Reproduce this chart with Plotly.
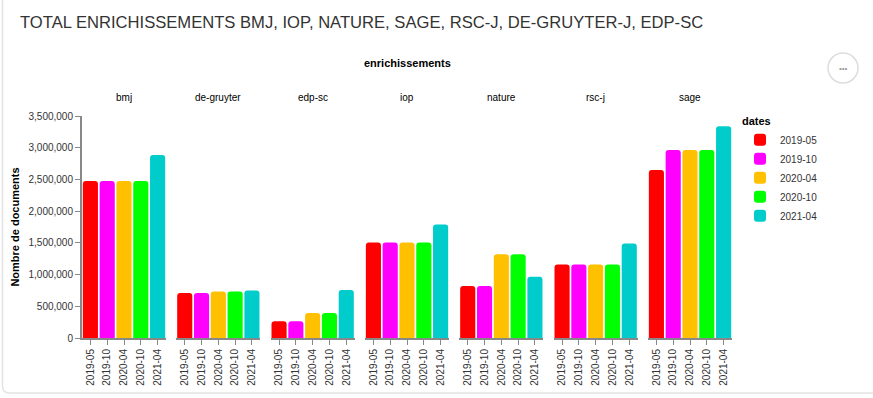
import plotly.graph_objects as go
from plotly.subplots import make_subplots

# ---- data ----
publishers = ["bmj", "de-gruyter", "edp-sc", "iop", "nature", "rsc-j", "sage"]
dates = ["2019-05", "2019-10", "2020-04", "2020-10", "2021-04"]
colors = ["#ff0000", "#ff00ff", "#ffc000", "#00ff00", "#00cccc"]

v_2019_05 = [2475000, 710000, 265000, 1505000, 820000, 1160000, 2650000]
v_2019_10 = [2475000, 710000, 265000, 1505000, 820000, 1160000, 2965000]
v_2020_04 = [2475000, 735000, 395000, 1505000, 1320000, 1160000, 2965000]
v_2020_10 = [2475000, 735000, 395000, 1505000, 1320000, 1160000, 2965000]
v_2021_04 = [2885000, 750000, 755000, 1790000, 965000, 1490000, 3340000]
series = [v_2019_05, v_2019_10, v_2020_04, v_2020_10, v_2021_04]

y_ticks = [0, 500000, 1000000, 1500000, 2000000, 2500000, 3000000, 3500000]

# ---- layout geometry (pixels) ----
W, H = 873, 398
ML, MR, MT, MB = 82, 141, 116, 60
PW = W - ML - MR
PH = H - MT - MB
FONT = "Liberation Sans, Arial, sans-serif"


def px(x):
    return (x - ML) / PW


def py(y):
    return (H - MB - y) / PH


n = len(publishers)
panel_w = 84
step = (PW - panel_w) / (n - 1)

fig = make_subplots(rows=1, cols=n, shared_yaxes=True)

for j, pub in enumerate(publishers):
    for k, d in enumerate(dates):
        fig.add_trace(
            go.Bar(
                x=[d],
                y=[series[k][j]],
                name=d,
                legendgroup=d,
                showlegend=(j == 0),
                marker=dict(color=colors[k], line=dict(width=0)),
                hovertemplate=pub + "<br>" + d + ": %{y:,}<extra></extra>",
            ),
            row=1,
            col=j + 1,
        )

for j in range(n):
    x0 = j * step / PW
    x1 = (j * step + panel_w) / PW
    xa = "xaxis" if j == 0 else f"xaxis{j+1}"
    ya = "yaxis" if j == 0 else f"yaxis{j+1}"
    fig.layout[xa].update(
        domain=[x0, x1],
        type="category",
        categoryorder="array",
        categoryarray=dates,
        showline=True,
        linecolor="#888888",
        linewidth=2,
        ticks="outside",
        ticklen=5,
        tickwidth=1,
        tickcolor="#888888",
        tickangle=-90,
        tickfont=dict(size=10, color="#333333", family=FONT),
        showgrid=False,
        zeroline=False,
        fixedrange=True,
    )
    fig.layout[ya].update(
        range=[0, 3500000],
        showgrid=False,
        zeroline=False,
        fixedrange=True,
    )
    if j == 0:
        fig.layout[ya].update(
            showline=True,
            linecolor="#888888",
            linewidth=2,
            ticks="outside",
            ticklen=5,
            tickcolor="#888888",
            tickvals=y_ticks,
            tickformat=",",
            tickfont=dict(size=10, color="#333333", family=FONT),
            title=dict(
                text="<b>Nombre de documents</b>",
                font=dict(size=11, color="#000000", family=FONT),
                standoff=7,
            ),
        )
    else:
        fig.layout[ya].update(showline=False, showticklabels=False, ticks="")
    # facet header
    fig.add_annotation(
        x=(x0 + x1) / 2,
        y=py(97),
        xref="paper",
        yref="paper",
        text=publishers[j],
        showarrow=False,
        font=dict(size=10, color="#000000", family=FONT),
        xanchor="center",
        yanchor="middle",
    )

annotations_extra = [
    dict(
        x=0.5,
        y=py(63),
        text="<b>enrichissements</b>",
        font=dict(size=11, color="#000000", family=FONT),
        xanchor="center",
    ),
    dict(
        x=px(18),
        y=py(22),
        text="TOTAL ENRICHISSEMENTS BMJ, IOP, NATURE, SAGE, RSC-J, DE-GRUYTER-J, EDP-SC",
        font=dict(size=16.6, color="#333333", family=FONT),
        xanchor="left",
    ),
    dict(
        x=px(843),
        y=py(68),
        text="•••",
        font=dict(size=8, color="#9a9a9a", family=FONT),
        xanchor="center",
    ),
]
for a in annotations_extra:
    fig.add_annotation(xref="paper", yref="paper", showarrow=False, yanchor="middle", **a)

# card border and menu button
fig.add_shape(
    type="path",
    xref="paper",
    yref="paper",
    path=(
        f"M {px(2.5)},{py(-5)} L {px(2.5)},{py(386)} "
        f"Q {px(2.5)},{py(393)} {px(9.5)},{py(393)} L {px(880)},{py(393)}"
    ),
    line=dict(color="#e3e3e3", width=1.5),
    layer="below",
)
fig.add_shape(
    type="circle",
    xref="paper",
    yref="paper",
    x0=px(828),
    x1=px(858),
    y0=py(83),
    y1=py(53),
    line=dict(color="#dddddd", width=1.5),
    fillcolor="#ffffff",
)

fig.update_layout(
    width=W,
    height=H,
    margin=dict(l=ML, r=MR, t=MT, b=MB, pad=0, autoexpand=False),
    paper_bgcolor="#ffffff",
    plot_bgcolor="#ffffff",
    barmode="relative",
    bargap=0.1,
    barcornerradius=3,
    showlegend=True,
    legend=dict(
        title=dict(text="<b>dates</b>", font=dict(size=11, color="#000000", family=FONT)),
        font=dict(size=10, color="#333333", family=FONT),
        x=px(740),
        y=py(111),
        xanchor="left",
        yanchor="top",
        tracegroupgap=0,
        bgcolor="rgba(0,0,0,0)",
        itemclick=False,
        itemdoubleclick=False,
    ),
    font=dict(family=FONT),
)

fig.write_html(
    "out.html",
    config={"displayModeBar": False},
    post_script="document.body.style.margin='0';document.body.style.overflow='hidden';",
)
